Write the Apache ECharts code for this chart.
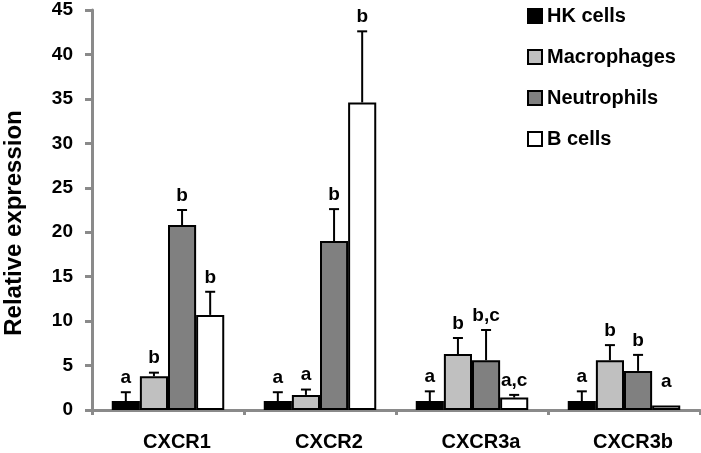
<!DOCTYPE html>
<html>
<head>
<meta charset="utf-8">
<script src="https://cdn.jsdelivr.net/npm/echarts@6/dist/echarts.min.js"></script>
<style>
html, body { margin: 0; padding: 0; background: #fff; }
#main { width: 701px; height: 453px; }
</style>
</head>
<body>
<div id="main"></div>
<script>
// ---- data ----
var categories = ['CXCR1', 'CXCR2', 'CXCR3a', 'CXCR3b'];
var seriesNames = ['HK cells', 'Macrophages', 'Neutrophils', 'B cells'];

var hkVals  = [1.0, 1.0, 1.0, 1.0];
var macVals = [3.8, 1.7, 6.3, 5.6];
var neuVals = [20.8, 19.0, 5.6, 4.4];
var bVals   = [10.7, 34.6, 1.4, 0.5];

var hkErr  = [1.0, 1.0, 1.1, 1.1];
var macErr = [0.4, 0.6, 1.8, 1.7];
var neuErr = [1.7, 3.6, 3.4, 1.8];
var bErr   = [2.6, 8.0, 0.3, 0];

var hkLetters  = ['a', 'a', 'a', 'a'];
var macLetters = ['b', 'a', 'b', 'b'];
var neuLetters = ['b', 'b', 'b,c', 'b'];
var bLetters   = ['b', 'b', 'a,c', 'a'];

var yMin = 0, yMax = 45, yStep = 5;

var allVals = [hkVals, macVals, neuVals, bVals];
var allErr = [hkErr, macErr, neuErr, bErr];
var allLetters = [hkLetters, macLetters, neuLetters, bLetters];
var fills = ['#000000', '#c0c0c0', '#808080', '#ffffff'];

var catGap = 0.26;
var font = '"Liberation Sans", Arial, sans-serif';

var chart = echarts.init(document.getElementById('main'));

var series = [];
seriesNames.forEach(function (name, i) {
    series.push({
        name: name,
        type: 'bar',
        data: allVals[i],
        barGap: '0%',
        barCategoryGap: (catGap * 100) + '%',
        itemStyle: { color: fills[i], borderColor: '#000', borderWidth: 2 },
        emphasis: { disabled: true }
    });
});

// error bars + significance letters, placed over each bar
seriesNames.forEach(function (name, i) {
    var rows = categories.map(function (c, k) {
        return [k, allVals[i][k], allErr[i][k], allLetters[i][k]];
    });
    series.push({
        type: 'custom',
        name: name + ' err',
        silent: true,
        z: 5,
        data: rows,
        encode: { x: 0, y: 1 },
        renderItem: function (params, api) {
            var k = api.value(0);
            var v = api.value(1);
            var e = api.value(2);
            var letter = rows[params.dataIndex][3];
            var band = api.size([1, 0])[0];
            var bw = band * (1 - catGap) / 4;
            var base = api.coord([k, v]);
            var cx = base[0] + (i - 1.5) * bw;
            var top = api.coord([k, v + e])[1];
            var children = [];
            if (e > 0) {
                children.push({
                    type: 'line',
                    shape: { x1: cx, y1: base[1], x2: cx, y2: top },
                    style: { stroke: '#000', lineWidth: 2 }
                });
                children.push({
                    type: 'line',
                    shape: { x1: cx - 5, y1: top, x2: cx + 5, y2: top },
                    style: { stroke: '#000', lineWidth: 2 }
                });
            }
            children.push({
                type: 'text',
                style: {
                    x: cx, y: top - (e > 0 ? 5 : 14),
                    text: letter,
                    align: 'center', verticalAlign: 'bottom',
                    font: 'bold 19px ' + font,
                    fill: '#000'
                }
            });
            return { type: 'group', children: children };
        }
    });
});

var option = {
    animation: false,
    grid: { left: 92, right: 1, top: 10, bottom: 43, containLabel: false, outerBoundsMode: 'none' },
    legend: {
        data: seriesNames,
        orient: 'vertical',
        left: 522,
        top: 1,
        itemWidth: 14,
        itemHeight: 14,
        itemGap: 21,
        icon: 'rect',
        selectedMode: false,
        textStyle: { fontFamily: font, fontWeight: 'bold', fontSize: 20, color: '#000' }
    },
    xAxis: {
        type: 'category',
        data: categories,
        axisLine: { lineStyle: { color: '#8a8a8a', width: 3 } },
        axisTick: { show: true, length: 5, alignWithLabel: false, lineStyle: { color: '#8a8a8a', width: 3 } },
        axisLabel: { margin: 22, padding: [0, 0, 0, 18], fontFamily: font, fontWeight: 'bold', fontSize: 20, color: '#000' }
    },
    yAxis: {
        type: 'value',
        min: yMin,
        max: yMax,
        interval: yStep,
        name: 'Relative expression',
        nameLocation: 'middle',
        nameRotate: 90,
        nameGap: 66,
        nameTextStyle: { fontFamily: font, fontWeight: 'bold', fontSize: 24, color: '#000', padding: [0, 26, 0, 0] },
        splitLine: { show: false },
        axisLine: { show: true, lineStyle: { color: '#8a8a8a', width: 3 } },
        axisTick: { show: true, length: 7, lineStyle: { color: '#8a8a8a', width: 3 } },
        axisLabel: { margin: 19, fontFamily: font, fontWeight: 'bold', fontSize: 19, color: '#000' }
    },
    series: series
};
chart.setOption(option);
</script>
</body>
</html>
